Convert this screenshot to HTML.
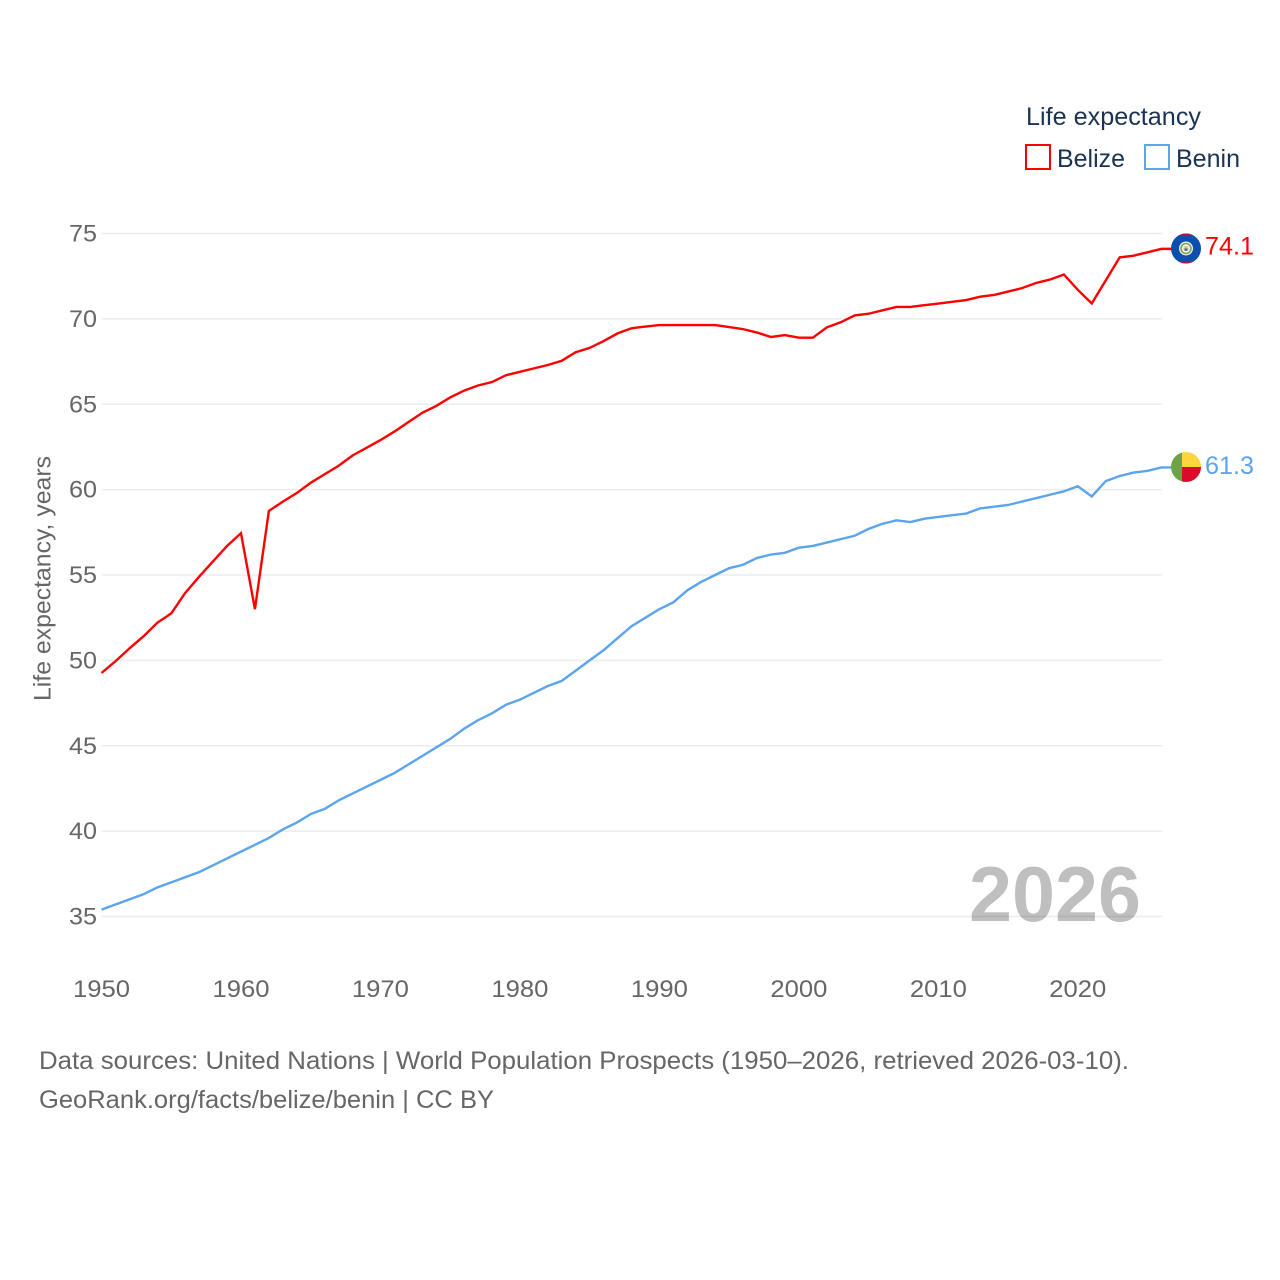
<!DOCTYPE html>
<html lang="en">
<head>
<meta charset="utf-8">
<title>Life expectancy: Belize and Benin</title>
<style>
html,body{margin:0;padding:0;background:#fff;width:1280px;height:1280px;overflow:hidden}
svg{display:block}
text{font-family:"Liberation Sans",sans-serif}
</style>
</head>
<body>
<svg id="chart" xmlns="http://www.w3.org/2000/svg" width="1280" height="1280" viewBox="0 0 1280 1280">
  <defs>
    <clipPath id="flag-clip-belize"><circle cx="1186" cy="248.5" r="15"/></clipPath>
    <clipPath id="flag-clip-benin"><circle cx="1186" cy="467" r="15"/></clipPath>
  </defs>
  <rect width="1280" height="1280" fill="#fff"/>
  <g id="grid"></g>
  <g id="y-ticks"></g>
  <g id="x-ticks"></g>
  <text x="0" y="0" transform="translate(50.5,701) rotate(-90)" font-size="24" fill="#666" textLength="245" lengthAdjust="spacingAndGlyphs">Life expectancy, years</text>

  <text x="969" y="921" font-size="78" font-weight="bold" fill="#000" fill-opacity="0.25" textLength="172" lengthAdjust="spacingAndGlyphs">2026</text>

  <g id="series"></g>

  <g>
    <text x="1026" y="125" font-size="25" fill="#1a3355" textLength="175" lengthAdjust="spacingAndGlyphs">Life expectancy</text>
    <g>
      <rect x="1026" y="145" width="24" height="24" fill="#fff" stroke="#ff0000" stroke-width="2"/>
      <text x="1057" y="167" font-size="25" fill="#1a3355" textLength="68" lengthAdjust="spacingAndGlyphs">Belize</text>
    </g>
    <g>
      <rect x="1145" y="145" width="24" height="24" fill="#fff" stroke="#5ba4ee" stroke-width="2"/>
      <text x="1176" y="167" font-size="25" fill="#1a3355" textLength="64" lengthAdjust="spacingAndGlyphs">Benin</text>
    </g>
  </g>

  <g clip-path="url(#flag-clip-belize)">
    <rect x="1171" y="233" width="30" height="31" fill="#0b50ae"/>
    <rect x="1171" y="233" width="30" height="3" fill="#b3123a"/>
    <rect x="1171" y="261" width="30" height="3" fill="#b3123a"/>
    <circle cx="1186" cy="248.5" r="7" fill="#eef0ea"/>
    <circle cx="1186" cy="248.5" r="5" fill="none" stroke="#7fa35a" stroke-width="1.6"/>
    <circle cx="1186" cy="248.5" r="2.6" fill="#e0c48a"/>
    <rect x="1184.5" y="248.5" width="3" height="2.2" fill="#3b6ea8"/>
  </g>
  <g clip-path="url(#flag-clip-benin)">
    <rect x="1171" y="452" width="11" height="30" fill="#6ca443"/>
    <rect x="1182" y="452" width="19" height="15" fill="#fcd63f"/>
    <rect x="1182" y="467" width="19" height="15" fill="#dc0a2b"/>
  </g>

  <g id="end-labels"></g>

  <text x="39" y="1069" font-size="25" fill="#666" textLength="1090" lengthAdjust="spacingAndGlyphs">Data sources: United Nations | World Population Prospects (1950–2026, retrieved 2026-03-10).</text>
  <text x="39" y="1108" font-size="25" fill="#666" textLength="455" lengthAdjust="spacingAndGlyphs">GeoRank.org/facts/belize/benin | CC BY</text>
</svg>
<script>
const years = [1950,1951,1952,1953,1954,1955,1956,1957,1958,1959,1960,1961,1962,1963,1964,1965,1966,1967,1968,1969,1970,1971,1972,1973,1974,1975,1976,1977,1978,1979,1980,1981,1982,1983,1984,1985,1986,1987,1988,1989,1990,1991,1992,1993,1994,1995,1996,1997,1998,1999,2000,2001,2002,2003,2004,2005,2006,2007,2008,2009,2010,2011,2012,2013,2014,2015,2016,2017,2018,2019,2020,2021,2022,2023,2024,2025,2026];
const belize = [49.26,49.95,50.7,51.4,52.2,52.75,53.95,54.9,55.8,56.7,57.45,53.0,58.75,59.3,59.8,60.4,60.9,61.4,62.0,62.45,62.9,63.4,63.95,64.5,64.9,65.4,65.8,66.1,66.3,66.7,66.9,67.1,67.3,67.55,68.05,68.3,68.7,69.15,69.45,69.55,69.64,69.64,69.64,69.64,69.64,69.52,69.4,69.2,68.94,69.05,68.9,68.9,69.5,69.8,70.2,70.3,70.5,70.7,70.7,70.8,70.9,71.0,71.1,71.3,71.4,71.6,71.8,72.1,72.3,72.6,71.7,70.9,72.25,73.6,73.7,73.9,74.1];
const benin = [35.4,35.7,36.0,36.3,36.7,37.0,37.3,37.6,38.0,38.4,38.8,39.2,39.6,40.1,40.5,41.0,41.3,41.8,42.2,42.6,43.0,43.4,43.9,44.4,44.9,45.4,46.0,46.5,46.9,47.4,47.7,48.1,48.5,48.8,49.4,50.0,50.6,51.3,52.0,52.5,53.0,53.4,54.1,54.6,55.0,55.4,55.6,56.0,56.2,56.3,56.6,56.7,56.9,57.1,57.3,57.7,58.0,58.2,58.1,58.3,58.4,58.5,58.6,58.9,59.0,59.1,59.3,59.5,59.7,59.9,60.2,59.6,60.5,60.8,61.0,61.1,61.3];
const yTickValues = [35,40,45,50,55,60,65,70,75];
const xTickValues = [1950,1960,1970,1980,1990,2000,2010,2020];
const endLabels = ["74.1","61.3"];

const NS = "http://www.w3.org/2000/svg";
const xScale = function (year) { return 101.5 + (year - 1950) * (1161.5 - 101.5) / 76; };
const yScale = function (value) { return 916.5 - (value - 35) * (916.5 - 233.5) / 40; };
const make = function (tag, parent) {
  const el = document.createElementNS(NS, tag);
  parent.appendChild(el);
  return el;
};

const gridGroup = document.getElementById("grid");
const yGroup = document.getElementById("y-ticks");
yTickValues.forEach(function (v) {
  const line = make("line", gridGroup);
  
  
  line.setAttribute("x1", 102);
  line.setAttribute("x2", 1162);
  line.setAttribute("y1", yScale(v));
  line.setAttribute("y2", yScale(v));
  line.setAttribute("stroke", "#ececec");
  line.setAttribute("stroke-width", 1.5);
  const label = make("text", yGroup);
  
  
  label.setAttribute("x", 97);
  label.setAttribute("y", yScale(v) + 8);
  label.setAttribute("text-anchor", "end");
  label.setAttribute("font-size", 24);
  label.setAttribute("fill", "#666");
  label.setAttribute("textLength", 28);
  label.setAttribute("lengthAdjust", "spacingAndGlyphs");
  label.textContent = v;
});

const xGroup = document.getElementById("x-ticks");
xTickValues.forEach(function (y) {
  const label = make("text", xGroup);
  
  
  label.setAttribute("x", xScale(y));
  label.setAttribute("y", 997);
  label.setAttribute("text-anchor", "middle");
  label.setAttribute("font-size", 24);
  label.setAttribute("fill", "#666");
  label.setAttribute("textLength", 57);
  label.setAttribute("lengthAdjust", "spacingAndGlyphs");
  label.textContent = y;
});

const seriesGroup = document.getElementById("series");
const drawSeries = function (values, color, name) {
  const points = values.map(function (v, i) {
    return xScale(years[i]).toFixed(2) + "," + yScale(v).toFixed(2);
  });
  const last = yScale(values[values.length - 1]).toFixed(2);
  points.push("1172," + last);
  const line = make("polyline", seriesGroup);
  
  
  line.setAttribute("points", points.join(" "));
  line.setAttribute("fill", "none");
  line.setAttribute("stroke", color);
  line.setAttribute("stroke-width", 2.4);
  line.setAttribute("stroke-linejoin", "miter");
};
drawSeries(benin, "#5ba4ee", "series-line-benin");
drawSeries(belize, "#ff0000", "series-line-belize");

const endGroup = document.getElementById("end-labels");
const labelBelize = make("text", endGroup);


labelBelize.setAttribute("x", 1205);
labelBelize.setAttribute("y", yScale(belize[belize.length - 1]) + 5.5);
labelBelize.setAttribute("font-size", 25);
labelBelize.setAttribute("fill", "#ff0000");
labelBelize.setAttribute("textLength", 49);
labelBelize.setAttribute("lengthAdjust", "spacingAndGlyphs");
labelBelize.textContent = endLabels[0];

const labelBenin = make("text", endGroup);


labelBenin.setAttribute("x", 1205);
labelBenin.setAttribute("y", yScale(benin[benin.length - 1]) + 6.5);
labelBenin.setAttribute("font-size", 25);
labelBenin.setAttribute("fill", "#5ba4ee");
labelBenin.setAttribute("textLength", 49);
labelBenin.setAttribute("lengthAdjust", "spacingAndGlyphs");
labelBenin.textContent = endLabels[1];
</script>
</body>
</html>
